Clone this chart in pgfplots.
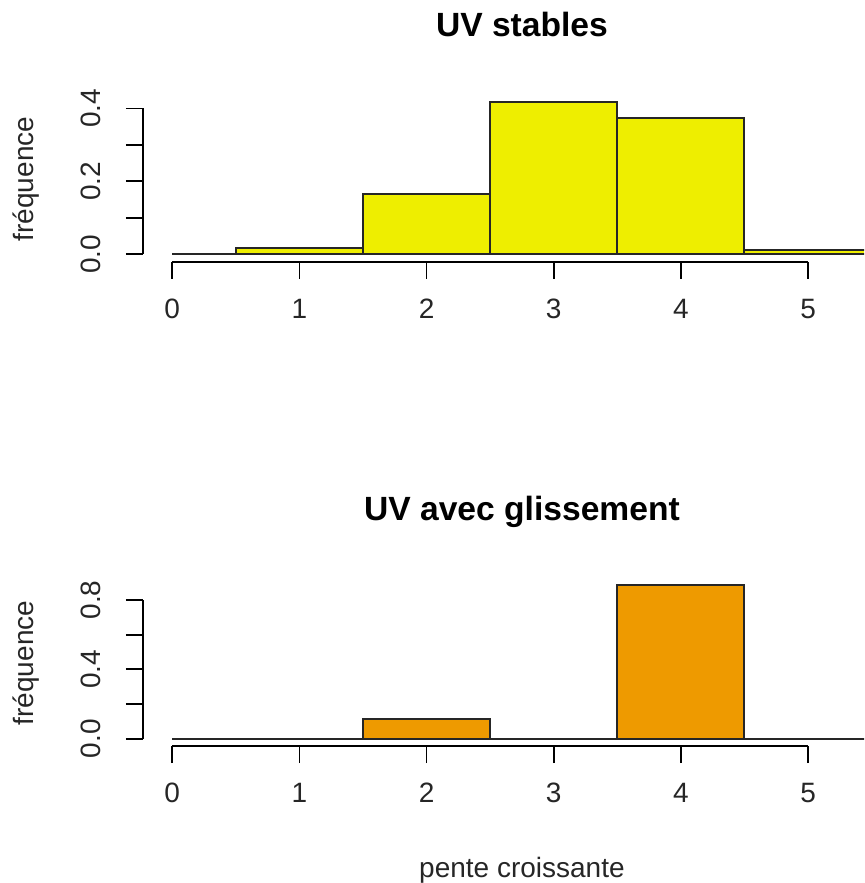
\documentclass[border=0pt]{standalone}
\usepackage{fontspec}
\setmainfont{Liberation Sans}
\usepackage{pgfplots}
\pgfplotsset{compat=1.18}

\definecolor{jaune}{HTML}{EEEE00}
\definecolor{orange2}{HTML}{EE9A00}

% 1 px of the reference = 0.5pt
\pgfplotsset{
  rhist/.style={
    scale only axis, width=360.5pt, height=83pt,
    xmin=-0.23, xmax=5.44,
    axis lines*=left,
    axis line style={draw=none},
    tick align=outside, major tick length=8.5pt,
    tick style={black, line width=0.9pt},
    xtick={0,1,2,3,4,5}, xticklabels={0,1,2,3,4,5},
    xticklabel style={anchor=base},
    xticklabel shift=19.5pt,
    yticklabel style={rotate=90, anchor=base},
    yticklabel shift=12.5pt,
    tick label style={font=\fontsize{14}{16}\selectfont, text=black!85},
    label style={font=\fontsize{14}{16}\selectfont, text=black!85},
    title style={font=\bfseries\fontsize{16.8}{20}\selectfont,
      at={([yshift=23.5pt]axis description cs:0.5256,1)}, anchor=base},
    ylabel style={at={([xshift=-54.5pt]axis description cs:0,0.5)}, anchor=base},
    xlabel style={at={([yshift=-65.5pt]axis description cs:0.5256,0)}, anchor=base},
  },
}

\begin{document}
\begin{tikzpicture}
\path[use as bounding box] (-71.5pt,-310.5pt) rectangle (360.5pt,131pt);

\begin{axis}[rhist, at={(0,0)},
  title={UV stables}, ylabel={fréquence},
  ymin=-0.021, ymax=0.434,
  ytick={0,0.1,0.2,0.3,0.4}, yticklabels={0.0,,0.2,,0.4},
  after end axis/.code={
    \draw[line width=0.9pt] (axis cs:0,-0.021) -- (axis cs:5,-0.021);
    \draw[line width=0.9pt] (axis cs:-0.23,0) -- (axis cs:-0.23,0.4);
  }]
\addplot[ybar interval, fill=jaune, draw=black!85, line width=1pt] coordinates {
  (0,0) (0.5,0.018) (1.5,0.166) (2.5,0.417) (3.5,0.373) (4.5,0.013) (5.5,0.013)};
\end{axis}

\begin{axis}[rhist, at={(0,-242pt)},
  title={UV avec glissement}, ylabel={fréquence}, xlabel={pente croissante},
  ymin=-0.042, ymax=0.915,
  ytick={0,0.2,0.4,0.6,0.8}, yticklabels={0.0,,0.4,,0.8},
  after end axis/.code={
    \draw[line width=0.9pt] (axis cs:0,-0.042) -- (axis cs:5,-0.042);
    \draw[line width=0.9pt] (axis cs:-0.23,0) -- (axis cs:-0.23,0.8);
  }]
\addplot[ybar interval, fill=orange2, draw=black!85, line width=1pt] coordinates {
  (0,0) (0.5,0) (1.5,0.1111) (2.5,0) (3.5,0.8889) (4.5,0) (5.5,0)};
\end{axis}
\end{tikzpicture}
\end{document}
